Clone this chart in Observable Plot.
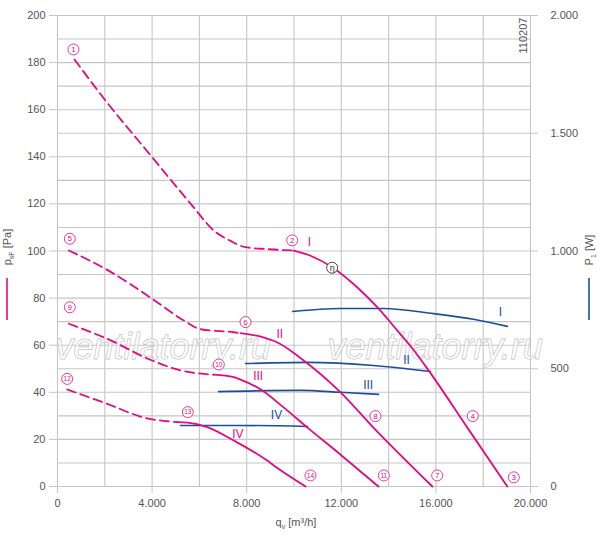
<!DOCTYPE html>
<html>
<head>
<meta charset="utf-8">
<script src="https://cdn.jsdelivr.net/npm/d3@7"></script>
<script src="https://cdn.jsdelivr.net/npm/@observablehq/plot@0.6"></script>
<style>
  html, body { margin: 0; padding: 0; background: #fff; }
  #chart { width: 600px; height: 535px; }
</style>
</head>
<body>
<div id="chart"></div>
<script>
// ---- data (q_v in m³/h, p_sF in Pa, P1 in W) ----
const curveI_dashed = [[719,181.3],[2030,163.9],[4004,139.8],[5695,119.3],[6608,108.7],[7315,104.3],[7950,101.6],[8866,100.8],[9990,100.2]];
const curveI_solid  = [[9990,100.2],[10700,98],[11630,93],[12680,84.5],[13570,75.6],[14370,66.2],[15010,58.6],[15690,49.3],[17330,25],[19020,0]];
const curveII_dashed = [[480,100.2],[2030,92.4],[4004,79.7],[5340,70.5],[6046,66.8],[7456,65.5],[7737,65.1]];
const curveII_solid  = [[7737,65.1],[8600,63.6],[9400,60.6],[10270,54.6],[11970,40],[13360,25],[15850,0]];
const curveIII_dashed = [[480,69.1],[2100,62.7],[4004,53.5],[5200,49.3],[6186,47.8],[6608,47.5]];
const curveIII_solid  = [[6608,47.5],[7456,46.4],[7737,45.4],[8580,41.3],[9560,33.6],[10570,25],[11970,13.5],[13570,0]];
const curveIV_dashed = [[408,41.2],[2100,35.1],[3793,28.9],[4638,27.7],[5060,27.3]];
const curveIV_solid  = [[5060,27.3],[5500,27.1],[6328,25.2],[7456,19.5],[8866,11],[9146,8.9],[10490,0]];

const powerI   = [[9940,743],[11970,756],[13780,756],[15900,734],[17590,710],[19020,680]];
const powerII  = [[7950,522],[10570,527],[13360,514],[15770,488]];
const powerIII = [[6810,403],[10270,408],[11970,400],[13570,391]];
const powerIV  = [[5200,259],[7740,259],[10570,255]];

const pointLabels = [["1",676,185.6],["2",9923,104.5],["3",19293,3.9],["4",17559,29.9],["5",520,105.2],["6",7950,69.8],["7",16054,4.7],["8",13445,29.9],["9",520,76.1],["10",6820,51.8],["11",13797,4.7],["12",408,45.7],["13",5510,31.6],["14",10697,4.7]];
const etaPoint = [["η",11614,92.9]];
const pressureNames = [["I",10655,103.7],["II",9400,64.8],["III",8485,46.7],["IV",7625,22.4]];
const powerNames = [["I",18730,740],["II",14756,538],["III",13136,432],["IV",9260,301]];
const watermark = [["ventilatorry.ru",-85,59],["ventilatorry.ru",11415,59]];
const drawingNo = [["110207",19700,191.5]];

const qTicks = [0,4000,8000,12000,16000,20000];
const pTicks = [0,20,40,60,80,100,120,140,160,180,200];
const wTicks = [0,500,1000,1500,2000];

// ---- helpers ----
const magenta = "#e5097f";
const blue = "#1b4f9c";
const gridColor = "#c6c6c6";
const textColor = "#555";
const fmt = d3.formatLocale({decimal: ",", thousands: ".", grouping: [3], currency: ["", ""]}).format(",");
const rows = (arr, series) => arr.map(([q, v]) => ({q, v, series}));

const dashed = [...rows(curveI_dashed,"I"),...rows(curveII_dashed,"II"),...rows(curveIII_dashed,"III"),...rows(curveIV_dashed,"IV")];
const solid = [...rows(curveI_solid,"I"),...rows(curveII_solid,"II"),...rows(curveIII_solid,"III"),...rows(curveIV_solid,"IV")];
const power = [...rows(powerI,"I"),...rows(powerII,"II"),...rows(powerIII,"III"),...rows(powerIV,"IV")];

const chart = Plot.plot({
  width: 600,
  height: 535,
  marginLeft: 57,
  marginRight: 70,
  marginTop: 15,
  marginBottom: 49,
  style: {fontFamily: "'Liberation Sans', Arial, sans-serif", fontSize: "11px", background: "#fff"},
  x: {domain: [0, 20000]},
  y: {domain: [0, 200]},
  marks: [
    Plot.gridY(d3.range(0, 201, 10), {stroke: gridColor, strokeOpacity: 1, strokeWidth: 1.1}),
    Plot.gridX(d3.range(0, 20001, 2000), {stroke: gridColor, strokeOpacity: 1, strokeWidth: 1.1}),
    Plot.text(watermark, {x: d => d[1], y: d => d[2], text: d => d[0], textAnchor: "start", fontSize: 36, fontStyle: "italic",
      fill: "#fff", fillOpacity: 0.55, stroke: "#b4b4b4", strokeWidth: 0.9, strokeOpacity: 0.9}),
    Plot.text(drawingNo, {x: d => d[1], y: d => d[2], text: d => d[0], rotate: -90, fontSize: 11, fill: textColor}),
    Plot.line(power, {x: "q", y: d => d.v / 10, z: "series", stroke: blue, strokeWidth: 1.6, curve: "monotone-x"}),
    Plot.line(dashed, {x: "q", y: "v", z: "series", stroke: magenta, strokeWidth: 1.8, strokeDasharray: "9,5", curve: "monotone-x"}),
    Plot.line(solid, {x: "q", y: "v", z: "series", stroke: magenta, strokeWidth: 1.8, curve: "monotone-x"}),
    Plot.dot(pointLabels, {x: d => d[1], y: d => d[2], r: 5.5, fill: "#fff", stroke: magenta, strokeWidth: 0.8}),
    Plot.text(pointLabels, {x: d => d[1], y: d => d[2], text: d => d[0], fill: magenta, fontSize: d => d[0].length > 1 ? 6.5 : 8}),
    Plot.dot(etaPoint, {x: d => d[1], y: d => d[2], r: 5.5, fill: "#fff", stroke: "#333", strokeWidth: 0.9}),
    Plot.text(etaPoint, {x: d => d[1], y: d => d[2], text: d => d[0], fill: "#333", fontSize: 9}),
    Plot.text(pressureNames, {x: d => d[1], y: d => d[2], text: d => d[0], fill: magenta, fontSize: 12}),
    Plot.text(powerNames, {x: d => d[1], y: d => d[2] / 10, text: d => d[0], fill: blue, fontSize: 12}),
    Plot.axisY({anchor: "left", ticks: pTicks, tickSize: 8, tickPadding: 4, tickFormat: fmt, label: null, stroke: gridColor, fill: textColor}),
    Plot.axisY({anchor: "right", ticks: wTicks.map(w => w / 10), tickSize: 7, tickPadding: 13, tickFormat: d => fmt(d * 10), label: null, stroke: gridColor, fill: textColor}),
    Plot.axisX({anchor: "bottom", ticks: qTicks, tickSize: 7, tickPadding: 6, tickFormat: fmt, label: null, stroke: gridColor, fill: textColor})
  ]
});

// axis titles with subscripts, plus the colour keys beside them
const svg = d3.select(chart);
function title(x, y, rot, main, sub, rest) {
  const t = svg.append("text")
    .attr("transform", `translate(${x},${y})` + (rot ? ` rotate(${rot})` : ""))
    .attr("text-anchor", "middle").attr("fill", textColor)
    .attr("font-size", 11).attr("font-family", "'Liberation Sans', Arial, sans-serif");
  t.append("tspan").text(main);
  t.append("tspan").attr("font-size", 7).attr("dy", 2.5).text(sub);
  t.append("tspan").attr("dy", -2.5).text(rest);
}
title(11, 247, -90, "p", "sF", " [Pa]");
title(593, 250, -90, "P", "1", " [W]");
title(296, 526, 0, "q", "v", " [m³/h]");
svg.append("line").attr("x1", 7).attr("x2", 7).attr("y1", 278).attr("y2", 320).attr("stroke", magenta).attr("stroke-width", 1.6);
svg.append("line").attr("x1", 589).attr("x2", 589).attr("y1", 278).attr("y2", 320).attr("stroke", blue).attr("stroke-width", 1.6);

document.getElementById("chart").appendChild(chart);
</script>
</body>
</html>
